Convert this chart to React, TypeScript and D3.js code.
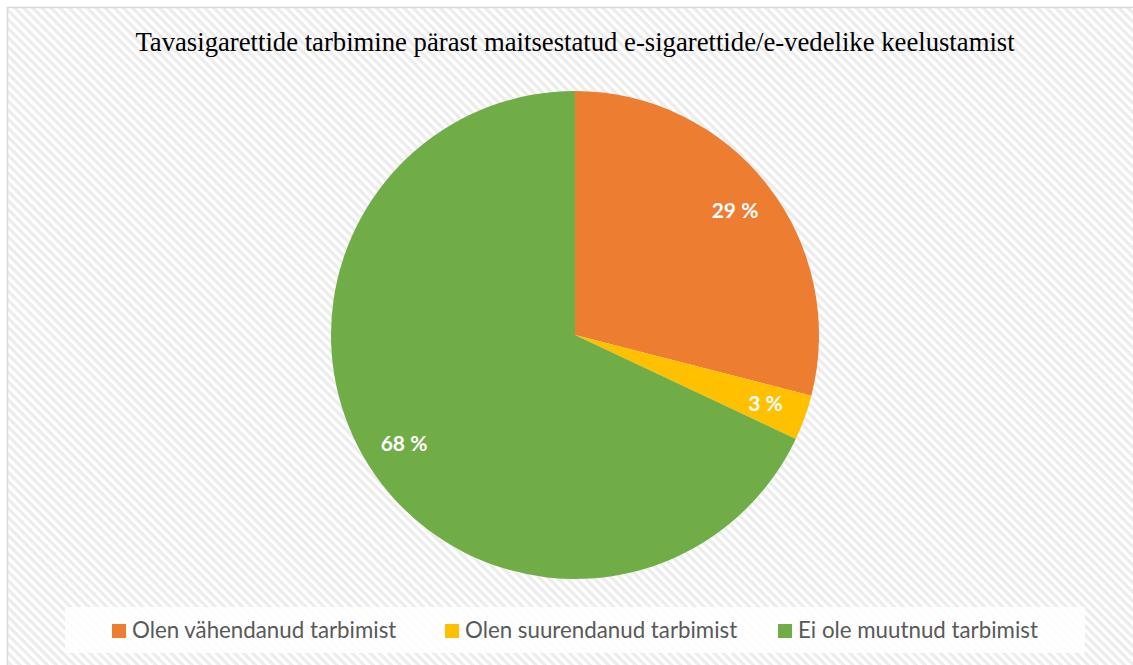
import React from "react";
import * as d3 from "d3";

const title = "Tavasigarettide tarbimine pärast maitsestatud e-sigarettide/e-vedelike keelustamist";
const categories = ["Olen vähendanud tarbimist", "Olen suurendanud tarbimist", "Ei ole muutnud tarbimist"];
const values = [29, 3, 68];
const colors = ["#ED7D31", "#FFC000", "#70AD47"];

const W = 1133;
const H = 665;
const cx = 575;
const cy = 335;
const R = 244;

export default function App() {
  const pie = d3.pie<number>().sort(null).value((d) => d);
  const arcs = pie(values);
  const arc = d3.arc<d3.PieArcDatum<number>>().innerRadius(0).outerRadius(R);
  const labelArc = d3.arc<d3.PieArcDatum<number>>().innerRadius(R * 0.83).outerRadius(R * 0.83);
  const total = d3.sum(values);

  const legendX = [112, 445, 778];

  return (
    <svg width={W} height={H} style={{ position: "absolute", left: 0, top: 0 }}>
      <defs>
        <pattern id="stripes" width="6.4" height="6.4" patternUnits="userSpaceOnUse" patternTransform="rotate(45)">
          <rect width="6.4" height="6.4" fill="#ffffff" />
          <rect width="6.4" height="3.2" fill="#ececec" />
        </pattern>
      </defs>
      <rect x={0} y={0} width={W} height={H} fill="#ffffff" />
      <rect x={7.5} y={7.5} width={W + 20} height={H + 20} fill="url(#stripes)" stroke="#d9d9d9" strokeWidth={1.5} />
      <text
        x={cx}
        y={51}
        textAnchor="middle"
        fontFamily="'Liberation Serif', 'Times New Roman', serif"
        fontSize={26.7}
        fill="#000000"
      >
        {title}
      </text>
      <g transform={`translate(${cx},${cy})`}>
        {arcs.map((a, i) => (
          <path key={i} d={arc(a) || ""} fill={colors[i]} />
        ))}
        {arcs.map((a, i) => {
          const [lx, ly] = labelArc.centroid(a);
          return (
            <text
              key={"l" + i}
              x={lx}
              y={ly}
              dy="0.35em"
              textAnchor="middle"
              fontFamily="Lato, 'Open Sans', sans-serif"
              fontWeight="bold"
              fontSize={21}
              fill="#ffffff"
            >
              {`${Math.round((a.data / total) * 100)} %`}
            </text>
          );
        })}
      </g>
      <rect x={65} y={607} width={1020} height={46} fill="#ffffff" fillOpacity={0.85} />
      {categories.map((c, i) => (
        <g key={"lg" + i}>
          <rect x={legendX[i]} y={624} width={14} height={14} fill={colors[i]} />
          <text
            x={legendX[i] + 20}
            y={638}
            fontFamily="Lato, 'Open Sans', sans-serif"
            fontSize={22.3}
            fill="#595959"
          >
            {c}
          </text>
        </g>
      ))}
    </svg>
  );
}
